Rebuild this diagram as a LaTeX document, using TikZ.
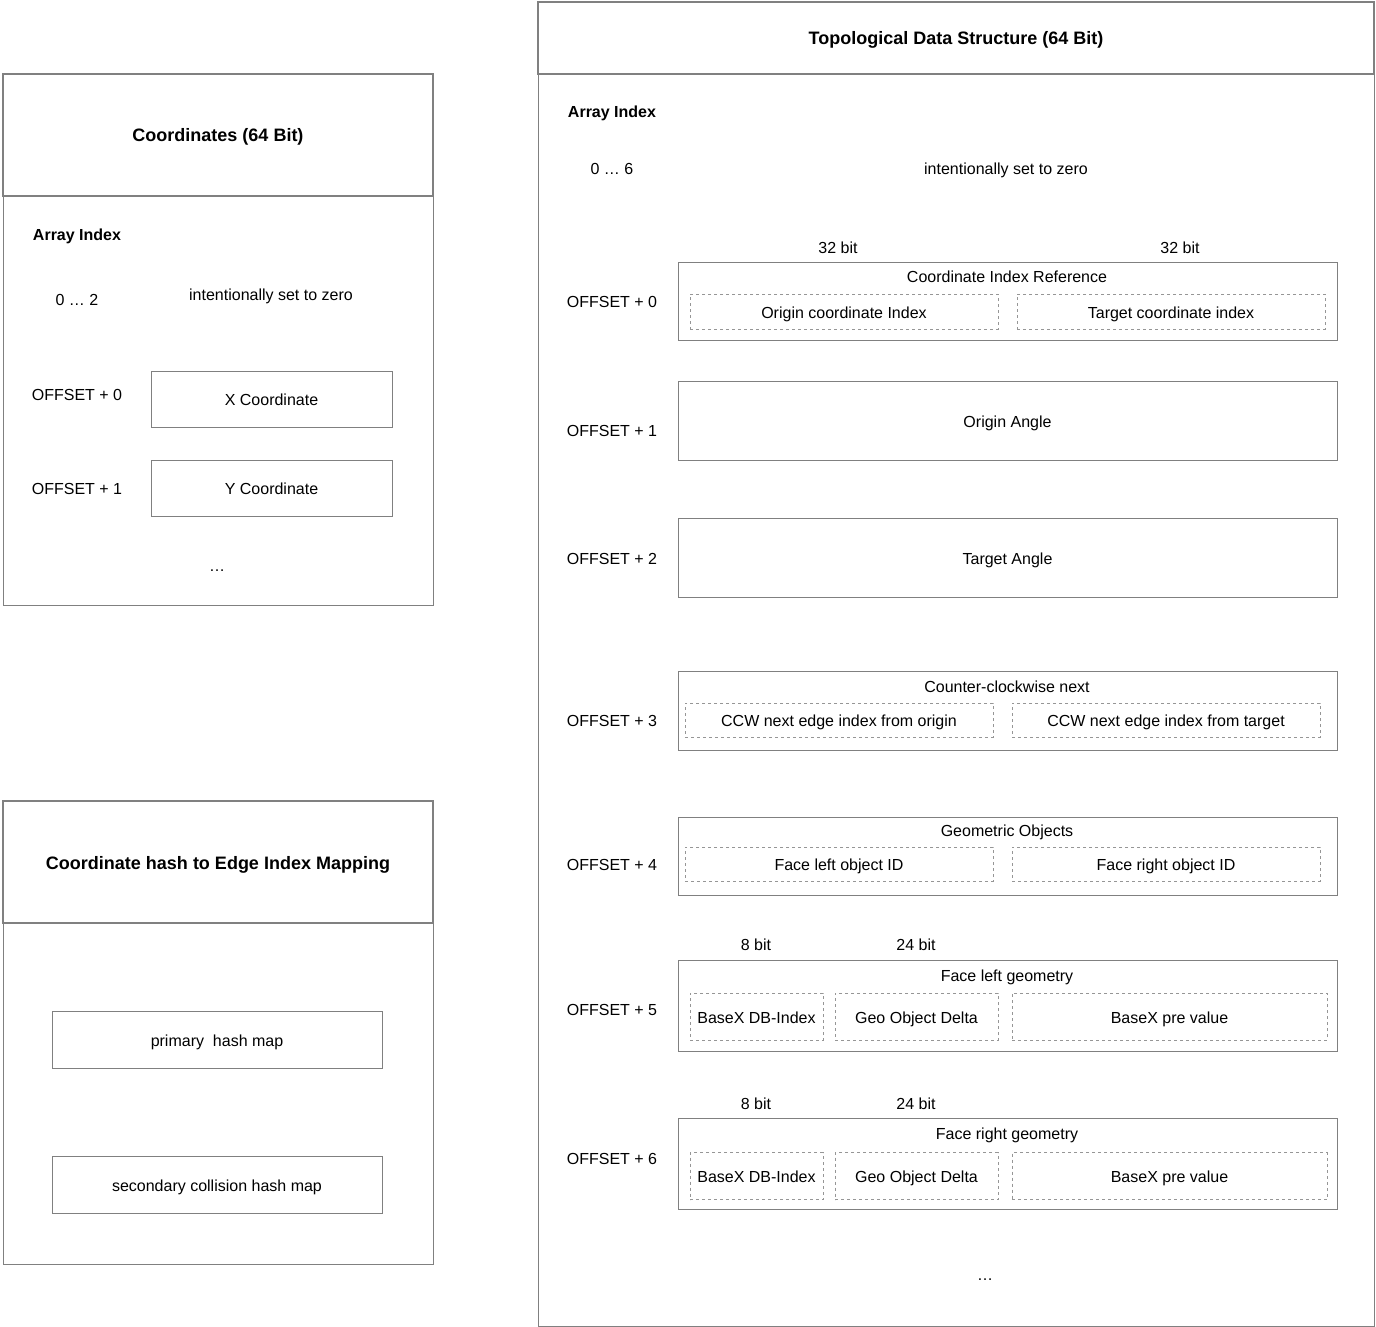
\documentclass[tikz,border=0pt]{standalone}
\usepackage{fontspec}
\setmainfont{Liberation Sans}
\definecolor{framegray}{RGB}{128,128,128}
\definecolor{dashgray}{RGB}{150,150,150}
\begin{document}
\begin{tikzpicture}[x=1pt,y=-1pt,
        every node/.style={font=\fontsize{16}{19}\selectfont, inner sep=0pt, text height=13pt, text depth=0pt},
        header/.style={draw=framegray, line width=2.5pt, fill=white, font=\fontsize{18}{21}\selectfont\bfseries, text height=14pt},
        panel/.style={draw=framegray, line width=0.8pt},
        field/.style={draw=framegray, line width=0.8pt},
        subfield/.style={draw=dashgray, line width=0.8pt, dash pattern=on 3pt off 3pt},
        bold/.style={font=\fontsize{16}{19}\selectfont\bfseries}]
        \useasboundingbox (0,0) rectangle (1376,1327);
        \node[panel, minimum width=430, minimum height=409] (coordBody) at (218,400.5) {};
        \node[header, minimum width=430, minimum height=122] (coordHead) at (218,135) {Coordinates (64 Bit)};
        \node[bold] (coordIdx) at (77,234) {Array Index};
        \node (coordZero) at (77,299) {0 … 2};
        \node (coordZeroTxt) at (271,294) {intentionally set to zero};
        \node (coordOff0) at (77,394) {OFFSET + 0};
        \node[field, minimum width=241, minimum height=56] (xCoord) at (271.5,399) {X Coordinate};
        \node (coordOff1) at (77,488) {OFFSET + 1};
        \node[field, minimum width=241, minimum height=56] (yCoord) at (271.5,488) {Y Coordinate};
        \node (coordDots) at (217,565) {…};

        \node[panel, minimum width=430, minimum height=341] (hashBody) at (218,1093.5) {};
        \node[header, minimum width=430, minimum height=122] (hashHead) at (218,862) {Coordinate hash to Edge Index Mapping};
        \node[field, minimum width=330, minimum height=57] (primMap) at (217,1039.5) {primary\ \ hash map};
        \node[field, minimum width=330, minimum height=57] (secMap) at (217,1184.5) {secondary collision hash map};

        \node[panel, minimum width=836, minimum height=1252] (topoBody) at (956,700) {};
        \node[header, minimum width=836, minimum height=72] (topoHead) at (956,38) {Topological Data Structure (64 Bit)};
        \node[bold] (topoIdx) at (612,111) {Array Index};
        \node (topoZero) at (612,168) {0 … 6};
        \node (topoZeroTxt) at (1006,168) {intentionally set to zero};

        \node (bitA) at (838,247) {32 bit};
        \node (bitB) at (1180,247) {32 bit};
        \node (off0) at (612,301) {OFFSET + 0};
        \node[field, minimum width=659, minimum height=78] (coordRef) at (1007.5,301) {};
        \node (coordRefTxt) at (1007,276) {Coordinate Index Reference};
        \node[subfield, minimum width=308, minimum height=35] (originIdx) at (844,311.5) {Origin coordinate Index};
        \node[subfield, minimum width=308, minimum height=35] (targetIdx) at (1171,311.5) {Target coordinate index};

        \node (off1) at (612,430) {OFFSET + 1};
        \node[field, minimum width=659, minimum height=79] (originAngle) at (1007.5,420.5) {Origin Angle};

        \node (off2) at (612,558) {OFFSET + 2};
        \node[field, minimum width=659, minimum height=79] (targetAngle) at (1007.5,557.5) {Target Angle};

        \node (off3) at (612,720) {OFFSET + 3};
        \node[field, minimum width=659, minimum height=79] (ccw) at (1007.5,710.5) {};
        \node (ccwTxt) at (1007,686) {Counter-clockwise next};
        \node[subfield, minimum width=308, minimum height=34] (ccwOrigin) at (839,720) {CCW next edge index from origin};
        \node[subfield, minimum width=308, minimum height=34] (ccwTarget) at (1166,720) {CCW next edge index from target};

        \node (off4) at (612,864) {OFFSET + 4};
        \node[field, minimum width=659, minimum height=78] (geoObj) at (1007.5,856) {};
        \node (geoObjTxt) at (1007,830) {Geometric Objects};
        \node[subfield, minimum width=308, minimum height=34] (faceLeft) at (839,864) {Face left object ID};
        \node[subfield, minimum width=308, minimum height=34] (faceRight) at (1166,864) {Face right object ID};

        \node (bitC) at (756,944) {8 bit};
        \node (bitD) at (916,944) {24 bit};
        \node (off5) at (612,1009) {OFFSET + 5};
        \node[field, minimum width=659, minimum height=91] (leftGeom) at (1007.5,1005.5) {};
        \node (leftGeomTxt) at (1007,975) {Face left geometry};
        \node[subfield, minimum width=133, minimum height=47] (leftDb) at (756.5,1016.5) {BaseX DB-Index};
        \node[subfield, minimum width=163, minimum height=47] (leftDelta) at (916.5,1016.5) {Geo Object Delta};
        \node[subfield, minimum width=315, minimum height=47] (leftPre) at (1169.5,1016.5) {BaseX pre value};

        \node (bitE) at (756,1103) {8 bit};
        \node (bitF) at (916,1103) {24 bit};
        \node (off6) at (612,1158) {OFFSET + 6};
        \node[field, minimum width=659, minimum height=91] (rightGeom) at (1007.5,1163.5) {};
        \node (rightGeomTxt) at (1007,1133) {Face right geometry};
        \node[subfield, minimum width=133, minimum height=47] (rightDb) at (756.5,1176) {BaseX DB-Index};
        \node[subfield, minimum width=163, minimum height=47] (rightDelta) at (916.5,1176) {Geo Object Delta};
        \node[subfield, minimum width=315, minimum height=47] (rightPre) at (1169.5,1176) {BaseX pre value};

        \node (topoDots) at (985,1274) {…};
    \end{tikzpicture}
\end{document}
